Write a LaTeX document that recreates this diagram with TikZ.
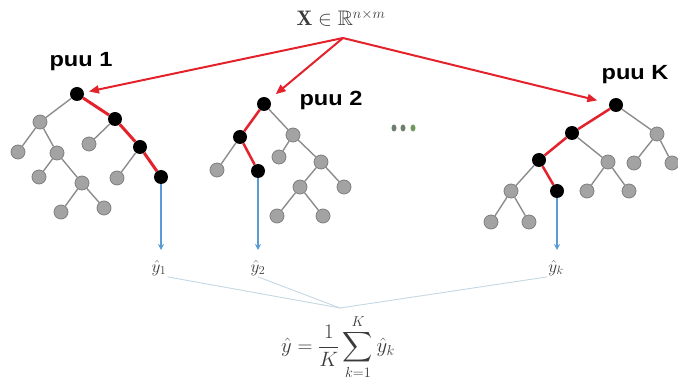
\documentclass[tikz,border=0pt]{standalone}
\usepackage{amsmath,amssymb}
\usepackage{fontspec}
\newfontfamily\labfont[FakeStretch=1.15]{Liberation Sans}
\usetikzlibrary{arrows.meta,shapes.geometric}
\definecolor{gfill}{HTML}{A3A3A3}
\definecolor{gborder}{HTML}{7F7F7F}
\definecolor{gedgec}{HTML}{8C8C8C}
\definecolor{redc}{HTML}{E3222B}
\definecolor{bluec}{HTML}{5B9BD5}
\definecolor{thinc}{HTML}{C5D7E3}
\definecolor{mathc}{HTML}{3A3A3A}
\definecolor{dotg}{HTML}{6F7F6F}
\definecolor{dotgr}{HTML}{6E9A5C}
\begin{document}
\begin{tikzpicture}[x=1pt,y=-1pt,
  gnode/.style={circle,fill=gfill,draw=gborder,line width=0.8pt,minimum size=14pt,inner sep=0pt},
  bnode/.style={circle,fill=black,minimum size=14pt,inner sep=0pt},
  gedge/.style={draw=gedgec,line width=1.4pt},
  redge/.style={draw=redc,line width=3pt},
  rarrow/.style={draw=redc,line width=2pt,-{Triangle[length=10pt,width=8pt]}},
  barrow/.style={draw=bluec,line width=1.3pt,-{Stealth[length=6pt,width=6pt]}},
  thinline/.style={draw=thinc,line width=0.9pt},
  puulabel/.style={font=\labfont\bfseries\fontsize{20.5}{24}\selectfont,inner sep=0pt},
  ylabel/.style={text=mathc,font=\fontsize{17}{19}\selectfont,inner sep=1pt},
  dotnode/.style={ellipse,minimum width=5pt,minimum height=7pt,inner sep=0pt}]
\useasboundingbox (0,0) rectangle (678,387);

% ---------- tree 1 ----------
\node[bnode] (a0) at (77,94) {};
\node[bnode] (a1) at (115,119) {};
\node[bnode] (a2) at (140,147) {};
\node[bnode] (a3) at (161,177) {};
\node[gnode] (ag1) at (40,122) {};
\node[gnode] (ag2) at (18,152) {};
\node[gnode] (ag3) at (57,153) {};
\node[gnode] (ag4) at (39,177) {};
\node[gnode] (ag5) at (82,183) {};
\node[gnode] (ag6) at (61,212) {};
\node[gnode] (ag7) at (104,208) {};
\node[gnode] (ag8) at (89,144) {};
\node[gnode] (ag9) at (117,178) {};
\draw[gedge] (a0) -- (ag1);
\draw[gedge] (ag1) -- (ag2);
\draw[gedge] (ag1) -- (ag3);
\draw[gedge] (ag3) -- (ag4);
\draw[gedge] (ag3) -- (ag5);
\draw[gedge] (ag5) -- (ag6);
\draw[gedge] (ag5) -- (ag7);
\draw[gedge] (a1) -- (ag8);
\draw[gedge] (a2) -- (ag9);
\draw[redge] (a0) -- (a1);
\draw[redge] (a1) -- (a2);
\draw[redge] (a2) -- (a3);
\node[puulabel] (p1) at (81,62) {puu 1};

% ---------- tree 2 ----------
\node[bnode] (b0) at (264,104) {};
\node[bnode] (b1) at (240,137) {};
\node[bnode] (b2) at (258,171) {};
\node[gnode] (bg1) at (217,170) {};
\node[gnode] (bg2) at (293,135) {};
\node[gnode] (bg3) at (279,157) {};
\node[gnode] (bg4) at (321,162) {};
\node[gnode] (bg5) at (300,187) {};
\node[gnode] (bg6) at (344,187) {};
\node[gnode] (bg7) at (277,216) {};
\node[gnode] (bg8) at (323,216) {};
\draw[gedge] (b1) -- (bg1);
\draw[gedge] (b0) -- (bg2);
\draw[gedge] (bg2) -- (bg3);
\draw[gedge] (bg2) -- (bg4);
\draw[gedge] (bg4) -- (bg5);
\draw[gedge] (bg4) -- (bg6);
\draw[gedge] (bg5) -- (bg7);
\draw[gedge] (bg5) -- (bg8);
\draw[redge,line width=2.5pt] (b0) -- (b1);
\draw[redge,line width=2.5pt] (b1) -- (b2);
\node[puulabel] (p2) at (331,100) {puu 2};

% ---------- tree K ----------
\node[bnode] (c0) at (616,105) {};
\node[bnode] (c1) at (572,133) {};
\node[bnode] (c2) at (539,160) {};
\node[bnode] (c3) at (557,191) {};
\node[gnode] (cg1) at (657,134) {};
\node[gnode] (cg2) at (634,163) {};
\node[gnode] (cg3) at (672,163) {};
\node[gnode] (cg4) at (608,162) {};
\node[gnode] (cg5) at (587,191) {};
\node[gnode] (cg6) at (629,191) {};
\node[gnode] (cg7) at (511,191) {};
\node[gnode] (cg8) at (491,222) {};
\node[gnode] (cg9) at (529,222) {};
\draw[gedge] (c0) -- (cg1);
\draw[gedge] (cg1) -- (cg2);
\draw[gedge] (cg1) -- (cg3);
\draw[gedge] (c1) -- (cg4);
\draw[gedge] (cg4) -- (cg5);
\draw[gedge] (cg4) -- (cg6);
\draw[gedge] (c2) -- (cg7);
\draw[gedge] (cg7) -- (cg8);
\draw[gedge] (cg7) -- (cg9);
\draw[redge,line width=2.5pt] (c0) -- (c1);
\draw[redge,line width=2.5pt] (c1) -- (c2);
\draw[redge,line width=2.5pt] (c2) -- (c3);
\node[puulabel] (pk) at (635,75) {puu K};

% ---------- dots ----------
\node[dotnode,fill=dotg] (d1) at (394,128) {};
\node[dotnode,fill=dotg] (d2) at (403,128) {};
\node[dotnode,fill=dotgr] (d3) at (413,128) {};

% ---------- input ----------
\node[text=mathc,font=\fontsize{21}{24}\selectfont,inner sep=0pt] (x) at (341,18) {$\mathbf{X}\in\mathbb{R}^{n\times m}$};
\coordinate (src) at (343,38);
\draw[rarrow,shorten >=5pt] (src) -- (a0);
\draw[rarrow,shorten >=8pt] (src) -- (b0);
\draw[rarrow,shorten >=12pt] (src) -- (c0);

% ---------- outputs ----------
\coordinate (e1) at (161,250);
\coordinate (e2) at (258,250);
\coordinate (e3) at (557,250);
\draw[barrow] (a3) -- (e1);
\draw[barrow] (b2) -- (e2);
\draw[barrow] (c3) -- (e3);
\node[ylabel] (y1) at (159,268) {$\hat{y}_1$};
\node[ylabel] (y2) at (258,268) {$\hat{y}_2$};
\node[ylabel] (yk) at (556,268) {$\hat{y}_k$};
\coordinate (conv) at (340,308);
\draw[thinline] (y1.south east) -- (conv);
\draw[thinline] (y2.south) -- (conv);
\draw[thinline] (yk.south west) -- (conv);
\node[text=mathc,font=\fontsize{21}{25}\selectfont,inner sep=0pt] (f) at (338,347) {$\displaystyle \hat{y}=\frac{1}{K}\sum_{k=1}^{K}\hat{y}_k$};
\end{tikzpicture}
\end{document}
